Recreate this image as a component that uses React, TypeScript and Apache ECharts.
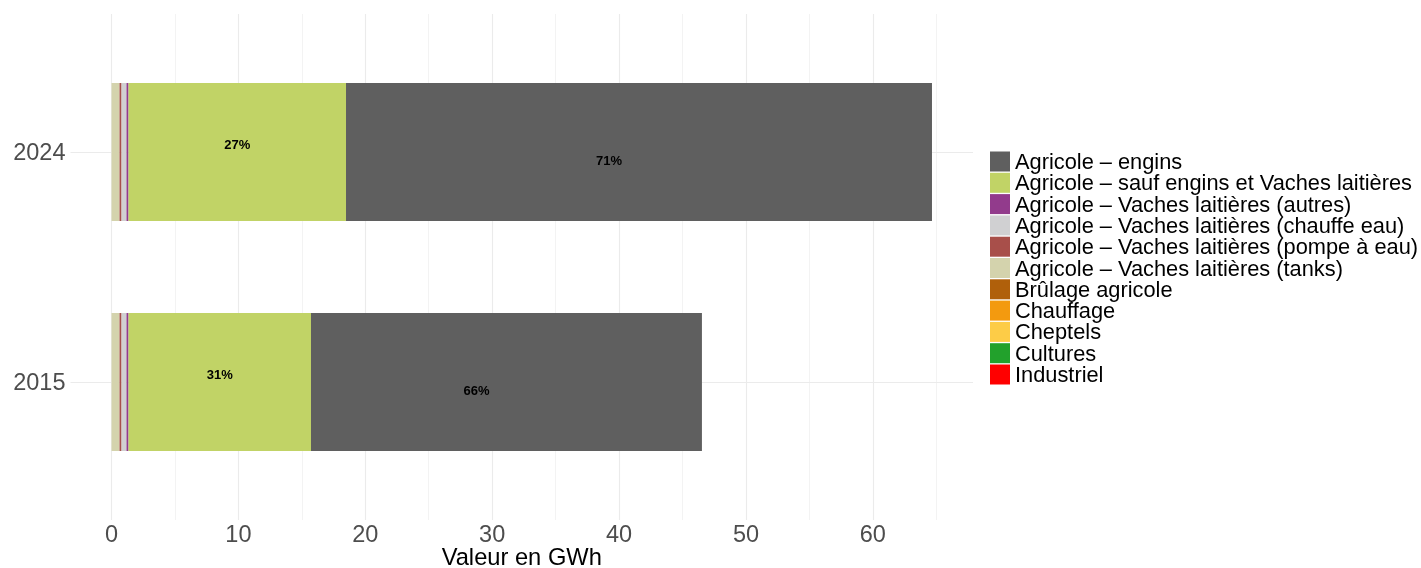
import React, { useEffect, useRef } from "react";
import * as echarts from "echarts";

const years = ["2015", "2024"];
const industriel = [0, 0];
const cultures = [0, 0];
const cheptels = [0, 0];
const chauffage = [0, 0];
const brulage = [0, 0];
const tanks = [0.63, 0.63];
const pompe = [0.16, 0.16];
const chauffeEau = [0.39, 0.39];
const autres = [0.16, 0.16];
const saufEngins = [14.38, 17.14];
const engins = [30.81, 46.18];

const xTicks = [0, 10, 20, 30, 40, 50, 60];
const minorTicks = [5, 15, 25, 35, 45, 55, 65];

const seriesDefs = [
  { name: "Industriel", data: industriel, color: "#ff0000" },
  { name: "Cultures", data: cultures, color: "#22a12c" },
  { name: "Cheptels", data: cheptels, color: "#fdcc47" },
  { name: "Chauffage", data: chauffage, color: "#f39a0f" },
  { name: "Brûlage agricole", data: brulage, color: "#b0600b" },
  { name: "Agricole – Vaches laitières (tanks)", data: tanks, color: "#d4d3ad" },
  { name: "Agricole – Vaches laitières (pompe à eau)", data: pompe, color: "#a84f4a" },
  { name: "Agricole – Vaches laitières (chauffe eau)", data: chauffeEau, color: "#d0d0d2" },
  { name: "Agricole – Vaches laitières (autres)", data: autres, color: "#923b8c" },
  { name: "Agricole – sauf engins et Vaches laitières", data: saufEngins, color: "#c1d366" },
  { name: "Agricole – engins", data: engins, color: "#5f5f5f" },
];

const totals = years.map((_, i) => seriesDefs.reduce((s, d) => s + d.data[i], 0));
const dataMax = Math.max(...totals);
const xMin = -dataMax * 0.05;
const xMax = dataMax * 1.05;

const FONT = "Liberation Sans, Arial, Helvetica, sans-serif";

export default function App() {
  const ref = useRef<HTMLDivElement>(null);
  useEffect(() => {
    if (!ref.current) return;
    const chart = echarts.init(ref.current, null, { renderer: "svg" });
    const gridColor = "#ebebeb";
    const markData: any[] = [];
    xTicks.forEach((v) => markData.push({ xAxis: v, lineStyle: { color: gridColor, width: 1.1, type: "solid" } }));
    minorTicks.forEach((v) => markData.push({ xAxis: v, lineStyle: { color: gridColor, width: 0.6, type: "solid" } }));
    [1, 2].forEach((v) => markData.push({ yAxis: v, lineStyle: { color: gridColor, width: 1.1, type: "solid" } }));

    const labeled: Record<string, number[]> = {
      "Agricole – sauf engins et Vaches laitières": [0, -8],
      "Agricole – engins": [-30, 8],
    };

    const barSeries = seriesDefs.map((d) => ({
      name: d.name,
      type: "bar",
      stack: "total",
      xAxisIndex: 0,
      yAxisIndex: 0,
      barWidth: 138,
      z: 3,
      itemStyle: { color: d.color },
      data: d.data,
      label: labeled[d.name]
        ? {
            show: true,
            position: "inside",
            offset: labeled[d.name],
            color: "#000",
            fontSize: 13,
            fontWeight: "bold",
            fontFamily: FONT,
            formatter: (p: any) => Math.round((p.value / totals[p.dataIndex]) * 100) + "%",
          }
        : { show: false },
    }));

    chart.setOption({
      animation: false,
      textStyle: { fontFamily: FONT },
      grid: [
        { left: 70.5, right: 448, top: 37, height: 460, outerBoundsMode: "none", containLabel: false },
        { left: 70.5, right: 448, top: 14, height: 506, outerBoundsMode: "none", containLabel: false },
      ],
      xAxis: [
        { type: "value", gridIndex: 0, min: xMin, max: xMax, show: false },
        {
          type: "value",
          gridIndex: 1,
          min: xMin,
          max: xMax,
          axisLine: { show: false },
          axisTick: { show: false },
          splitLine: { show: false },
          axisLabel: {
            customValues: xTicks,
            color: "#4d4d4d",
            fontSize: 23.5,
            margin: 2,
            fontFamily: FONT,
          },
          name: "Valeur en GWh",
          nameLocation: "middle",
          nameGap: 25,
          nameMoveOverlap: false,
          nameTextStyle: { color: "#000", fontSize: 23.7, fontFamily: FONT },
        },
      ],
      yAxis: [
        {
          type: "category",
          gridIndex: 0,
          data: years,
          axisLine: { show: false },
          axisTick: { show: false },
          splitLine: { show: false },
          axisLabel: { color: "#4d4d4d", fontSize: 23.5, margin: 5, fontFamily: FONT },
        },
        { type: "value", gridIndex: 1, min: 0.4, max: 2.6, show: false },
      ],
      legend: {
        orient: "vertical",
        left: 990,
        top: 150.5,
        padding: 0,
        itemWidth: 20,
        itemHeight: 20,
        itemGap: -0.7,
        icon: "rect",
        data: seriesDefs.map((d) => d.name).reverse(),
        textStyle: { color: "#000", fontSize: 21.8, lineHeight: 20, fontFamily: FONT },
        selectedMode: false,
      },
      series: [
        {
          type: "line",
          xAxisIndex: 1,
          yAxisIndex: 1,
          data: [[-100, -100]],
          showSymbol: false,
          silent: true,
          z: 1,
          lineStyle: { opacity: 0 },
          markLine: {
            silent: true,
            symbol: "none",
            label: { show: false },
            data: markData,
            z: 1,
          },
        },
        ...barSeries,
      ],
    });
    return () => chart.dispose();
  }, []);
  return <div ref={ref} style={{ position: "fixed", left: 0, top: 0, width: 1421, height: 568 }} />;
}
